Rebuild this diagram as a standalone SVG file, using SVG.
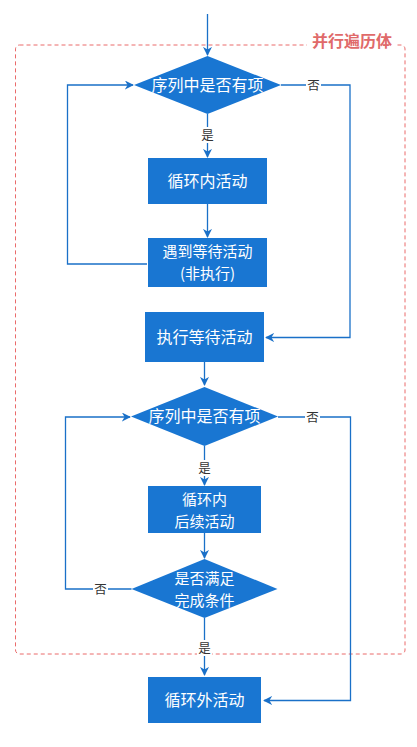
<svg xmlns="http://www.w3.org/2000/svg" width="417" height="747" viewBox="0 0 417 747">
<defs>
<style>
.box{fill:#1976d2;}
.t{fill:#fff;font-family:"Noto Sans CJK SC","Liberation Sans",sans-serif;font-size:16px;text-anchor:middle;}
.t2{font-size:15px;}
.lbl{fill:#333;font-family:"Noto Sans CJK SC","Liberation Sans",sans-serif;font-size:12.5px;text-anchor:middle;}
.ln{fill:none;stroke:#1a70c8;stroke-width:1.3;}
.bg{fill:#fff;}
</style>
<marker id="ah" viewBox="0 0 10 10" refX="9" refY="5" markerWidth="9" markerHeight="9" markerUnits="userSpaceOnUse" orient="auto">
<path d="M0,0 L10,5 L0,10 L3,5 Z" fill="#1a70c8"/>
</marker>
</defs>
<rect width="417" height="747" fill="#fff"/>
<g id="container">
<rect x="15.5" y="45" width="389.5" height="609" rx="4" fill="none" stroke="#ea6b6b" stroke-width="1" stroke-dasharray="4,3"/>
<rect x="307" y="33" width="90" height="18" class="bg"/>
<text x="352" y="47" fill="#e06a6a" font-family="Noto Sans CJK SC,Liberation Sans,sans-serif" font-size="16" font-weight="bold" text-anchor="middle">并行遍历体</text>
</g>
<g id="connectors">
<path class="ln" d="M207.5,14 V55" marker-end="url(#ah)"/>
<path class="ln" d="M207.5,114 V157" marker-end="url(#ah)"/>
<path class="ln" d="M207.5,204 V237" marker-end="url(#ah)"/>
<path class="ln" d="M147,264 H67.5 V85 H133" marker-end="url(#ah)"/>
<path class="ln" d="M281,85 H350 V337.5 H266" marker-end="url(#ah)"/>
<path class="ln" d="M204.5,362 V385" marker-end="url(#ah)"/>
<path class="ln" d="M204.5,446 V485" marker-end="url(#ah)"/>
<path class="ln" d="M204.5,533 V558" marker-end="url(#ah)"/>
<path class="ln" d="M131.5,589 H65.5 V417 H130" marker-end="url(#ah)"/>
<path class="ln" d="M278,417 H350.5 V700.5 H264" marker-end="url(#ah)"/>
<path class="ln" d="M204.5,618 V675" marker-end="url(#ah)"/>
<rect class="bg" x="200" y="127" width="15" height="16"/>
<text class="lbl" x="207.5" y="139.5">是</text>
<rect class="bg" x="306" y="77" width="15" height="16"/>
<text class="lbl" x="313.5" y="89.5">否</text>
<rect class="bg" x="197" y="460" width="15" height="16"/>
<text class="lbl" x="204.5" y="472.5">是</text>
<rect class="bg" x="305" y="409" width="15" height="16"/>
<text class="lbl" x="312.5" y="421.5">否</text>
<rect class="bg" x="93" y="581" width="15" height="16"/>
<text class="lbl" x="100.5" y="593.5">否</text>
<rect class="bg" x="197" y="640" width="15" height="16"/>
<text class="lbl" x="204.5" y="652.5">是</text>
</g>
<g id="d1">
<polygon class="box" points="207.5,56 281,85 207.5,114 134,85"/>
<text class="t" x="207.5" y="90.5">序列中是否有项</text>
</g>
<g id="b1">
<rect class="box" x="148" y="158" width="119" height="46"/>
<text class="t" x="207.5" y="186.5">循环内活动</text>
</g>
<g id="b2">
<rect class="box" x="148" y="238" width="119" height="49"/>
<text class="t t2" x="207.5" y="257">遇到等待活动<tspan x="207.5" dy="22">(非执行)</tspan></text>
</g>
<g id="b3">
<rect class="box" x="145" y="312" width="119" height="50"/>
<text class="t" x="204.5" y="342.5">执行等待活动</text>
</g>
<g id="d2">
<polygon class="box" points="204.5,387 278,416.5 204.5,446 131,416.5"/>
<text class="t" x="204.5" y="422">序列中是否有项</text>
</g>
<g id="b4">
<rect class="box" x="148" y="486" width="113" height="47"/>
<text class="t t2" x="204.5" y="504.5">循环内<tspan x="204.5" dy="22">后续活动</tspan></text>
</g>
<g id="d3">
<polygon class="box" points="204.5,559 277.5,589 204.5,618 131.5,589"/>
<text class="t t2" x="204.5" y="584">是否满足<tspan x="204.5" dy="22">完成条件</tspan></text>
</g>
<g id="b5">
<rect class="box" x="148" y="677" width="113" height="46"/>
<text class="t" x="204.5" y="705.5">循环外活动</text>
</g>
</svg>
